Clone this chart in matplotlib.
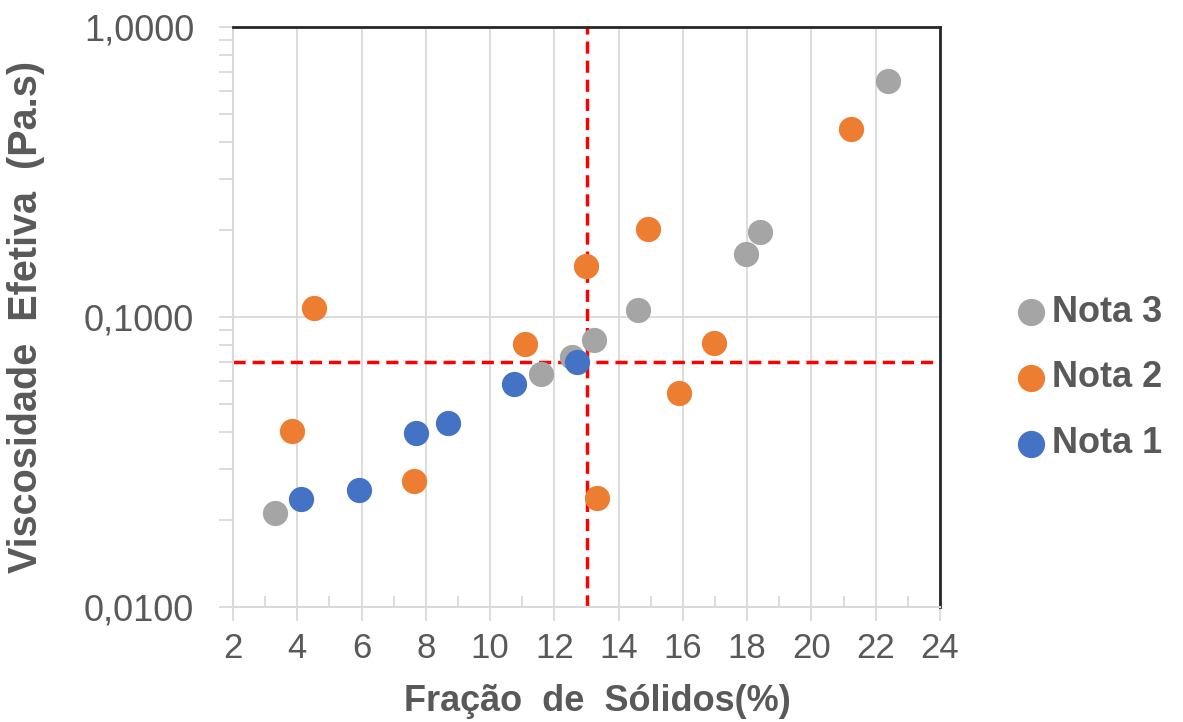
import numpy as np
import matplotlib
matplotlib.use("Agg")
import matplotlib.pyplot as plt
from matplotlib.ticker import FixedLocator, NullFormatter, LogLocator

plt.rcParams['font.family'] = ['Liberation Sans', 'DejaVu Sans']

# Nota 3 (cinza)
x_nota3 = [3.31, 11.58, 12.54, 13.23, 14.61, 17.95, 18.41, 22.38]
y_nota3 = [0.0211, 0.0636, 0.0730, 0.0833, 0.1057, 0.1645, 0.196, 0.653]
# Nota 2 (laranja)
x_nota2 = [3.85, 4.53, 7.64, 11.10, 12.98, 13.33, 14.90, 15.88, 16.97, 21.23]
y_nota2 = [0.0405, 0.107, 0.0272, 0.0809, 0.150, 0.0238, 0.201, 0.0546, 0.0811, 0.445]
# Nota 1 (azul)
x_nota1 = [4.13, 5.91, 7.69, 8.68, 10.74, 12.70]
y_nota1 = [0.0235, 0.0253, 0.0399, 0.0430, 0.0586, 0.0700]

x_limite = 13.0
y_limite = 0.070

x_ticks = [2, 4, 6, 8, 10, 12, 14, 16, 18, 20, 22, 24]
y_ticks = [0.01, 0.1, 1.0]
y_tick_labels = ['0,0100', '0,1000', '1,0000']

texto = '#595959'
grade = '#D9D9D9'

fig = plt.figure(figsize=(11.83, 7.22), dpi=100)
ax = fig.add_axes([0.197, 0.1593, 0.5976, 0.8033])

ax.axhline(y_limite, color='#FF0000', lw=2.5, ls=(0, (3.5, 2)), zorder=2)
ax.axvline(x_limite, color='#FF0000', lw=2.5, ls=(0, (3.5, 2)), zorder=2)

ms = 330
ax.scatter(x_nota3, y_nota3, s=ms, color='#A5A5A5', lw=0, zorder=3, label='Nota 3')
ax.scatter(x_nota2, y_nota2, s=ms, color='#ED7D31', lw=0, zorder=3, label='Nota 2')
ax.scatter(x_nota1, y_nota1, s=ms, color='#4472C4', lw=0, zorder=3, label='Nota 1')

ax.set_yscale('log')
ax.set_xlim(2, 24)
ax.set_ylim(0.01, 1.0)

ax.xaxis.set_major_locator(FixedLocator(x_ticks))
ax.xaxis.set_minor_locator(FixedLocator(list(range(3, 24, 2))))
ax.yaxis.set_major_locator(FixedLocator(y_ticks))
ax.set_yticklabels(y_tick_labels)
ax.yaxis.set_minor_locator(LogLocator(base=10, subs=np.arange(2, 10)))
ax.yaxis.set_minor_formatter(NullFormatter())

ax.tick_params(axis='x', which='major', direction='out', length=10, width=1.3,
               color=grade, labelsize=25, labelcolor=texto, pad=8)
ax.tick_params(axis='x', which='minor', direction='in', length=8, width=1.3, color=grade)
ax.tick_params(axis='y', which='both', direction='out', length=10, width=1.3,
               color=grade, labelsize=26, labelcolor=texto, pad=18)

ax.grid(True, which='major', color=grade, lw=1.3, zorder=0)
ax.set_axisbelow(True)

for s in ['left', 'bottom']:
    ax.spines[s].set_color(grade)
    ax.spines[s].set_linewidth(1.5)
for s in ['top', 'right']:
    ax.spines[s].set_color('#262626')
    ax.spines[s].set_linewidth(2)

ax.set_xlabel('Fração  de  Sólidos(%)', fontsize=26, fontweight='bold', color=texto, labelpad=14)
ax.xaxis.label.set_x(0.515)
ax.set_ylabel('Viscosidade  Efetiva  (Pa.s)', fontsize=28.5, fontweight='bold', color=texto, labelpad=28)

leg = fig.legend(loc='center left', bbox_to_anchor=(0.856, 0.4765), frameon=False,
                 prop={'size': 26, 'weight': 'bold'}, handlelength=1.0, handletextpad=0.1,
                 labelspacing=0.85, markerscale=1.08, borderpad=0, borderaxespad=0)
for t in leg.get_texts():
    t.set_color(texto)

fig.savefig('out.png', dpi=100)
